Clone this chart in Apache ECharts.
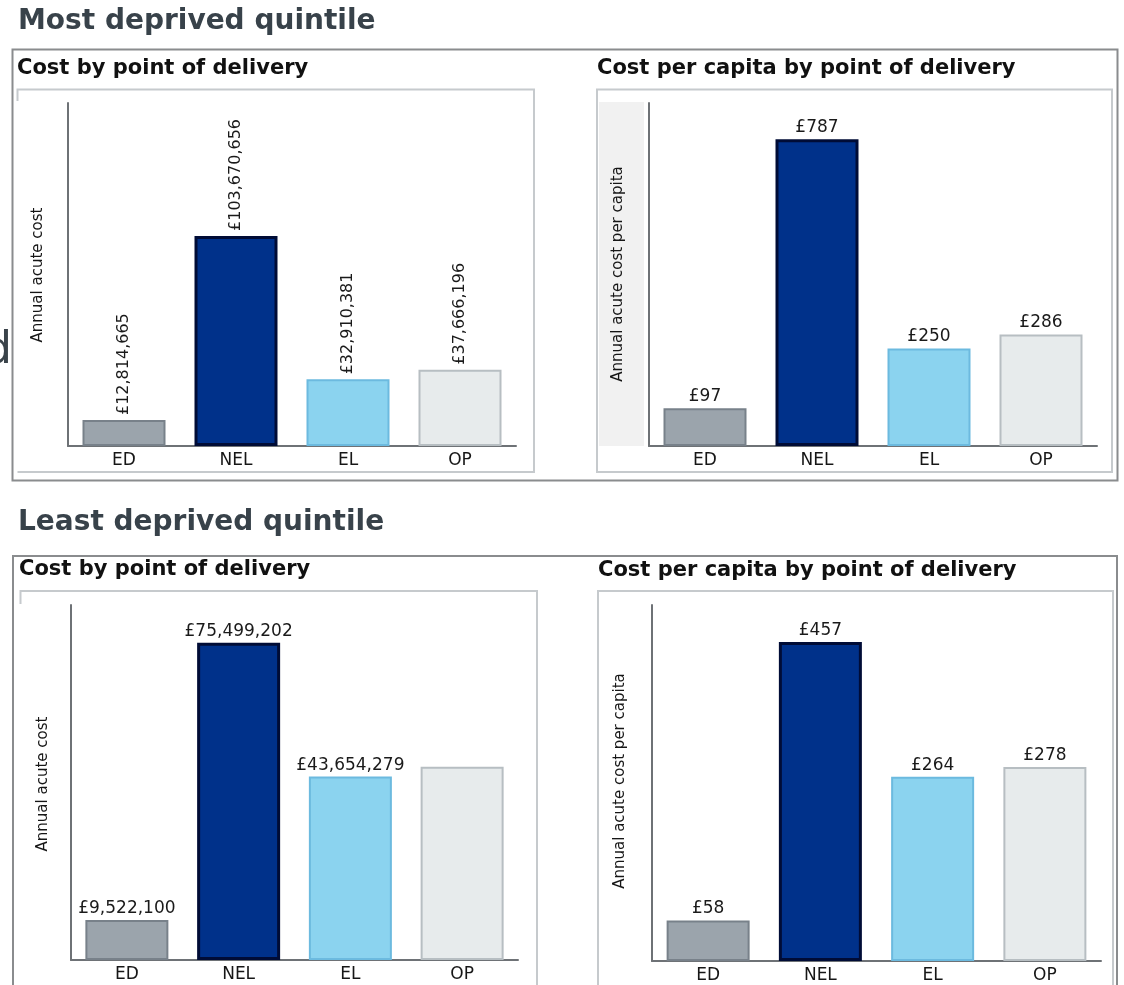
<!DOCTYPE html>
<html>
<head>
<meta charset="utf-8">
<script src="https://cdn.jsdelivr.net/npm/echarts@6/dist/echarts.min.js"></script>
<style>
  html, body { margin: 0; padding: 0; background: #ffffff; }
  #chart { width: 1124px; height: 985px; }
</style>
</head>
<body>
<div id="chart"></div>
<script>
// Points of delivery and annual acute costs by deprivation quintile
const categories = ['ED', 'NEL', 'EL', 'OP'];
const mostDeprivedCost = [12814665, 103670656, 32910381, 37666196];
const mostDeprivedPerCapita = [97, 787, 250, 286];
const leastDeprivedCost = [9522100, 75499202, 43654279, 46000000];
const leastDeprivedPerCapita = [58, 457, 264, 278];
// the least deprived OP cost bar carries no value label
const leastDeprivedCostLabelled = [true, true, true, false];

const sectionTitles = ['Most deprived quintile', 'Least deprived quintile'];
const panelTitles = ['Cost by point of delivery', 'Cost per capita by point of delivery'];
const axisNames = ['Annual acute cost', 'Annual acute cost per capita'];

// styling per point of delivery
const barFill = ['#9ba4ac', '#00318a', '#8bd3ef', '#e7ebec'];
const barEdge = ['#78818a', '#000c36', '#6cbadf', '#b7bec2'];
const barEdgeWidth = [2, 3, 2, 2];

const FONT = 'DejaVu Sans';
const pound = v => '£' + String(Math.round(v)).replace(/\B(?=(\d{3})+(?!\d))/g, ',');

const chart = echarts.init(document.getElementById('chart'), null, { renderer: 'canvas' });

// plot areas (px): left, top, width, height, y max
const panels = [
  { left: 68,  top: 103, width: 448, height: 343, max: 169.3e6, values: mostDeprivedCost,      rotated: true,  labelled: [true, true, true, true] },
  { left: 649, top: 103, width: 448, height: 343, max: 880,     values: mostDeprivedPerCapita, rotated: false, labelled: [true, true, true, true] },
  { left: 71,  top: 605, width: 447, height: 355, max: 84.5e6,  values: leastDeprivedCost,     rotated: false, labelled: leastDeprivedCostLabelled },
  { left: 652, top: 605, width: 449, height: 356, max: 510,     values: leastDeprivedPerCapita, rotated: false, labelled: [true, true, true, true] }
];

const grid = [], xAxis = [], yAxis = [], series = [];
panels.forEach((p, i) => {
  grid.push({ left: p.left, top: p.top, width: p.width, height: p.height, containLabel: false });
  xAxis.push({
    type: 'category', gridIndex: i, data: categories,
    axisLine: { show: true, lineStyle: { color: '#6e7276', width: 2 } },
    axisTick: { show: false },
    axisLabel: { color: '#161616', fontFamily: FONT, fontSize: 17, margin: 6 }
  });
  yAxis.push({
    type: 'value', gridIndex: i, min: 0, max: p.max,
    axisLine: { show: true, lineStyle: { color: '#6e7276', width: 2 } },
    axisTick: { show: false }, axisLabel: { show: false }, splitLine: { show: false }
  });
  series.push({
    type: 'bar', xAxisIndex: i, yAxisIndex: i, barWidth: 83, animation: false,
    data: p.values.map((v, k) => ({
      value: v,
      itemStyle: { color: barFill[k], borderColor: barEdge[k], borderWidth: barEdgeWidth[k] },
      label: { show: p.labelled[k] }
    })),
    label: p.rotated
      ? { show: true, position: 'top', rotate: 90, align: 'left', verticalAlign: 'middle', distance: 5,
          fontFamily: FONT, fontSize: 16, color: '#1a1a1a', formatter: d => pound(d.value) }
      : { show: true, position: 'top', distance: 3,
          fontFamily: FONT, fontSize: 17, color: '#1a1a1a', formatter: d => pound(d.value) }
  });
});

const boxGray = '#8a8c8e';
const innerGray = '#c6cacd';
const text = (x, y, str, font, fill) => ({
  type: 'text', silent: true,
  style: { x: x, y: y, text: str, font: font, fill: fill, textVerticalAlign: 'top' }
});
const rotatedName = (cx, cy, str) => ({
  type: 'text', silent: true, x: cx, y: cy, rotation: Math.PI / 2,
  style: { x: 0, y: 0, text: str, font: '15px "' + FONT + '"', fill: '#161616', textAlign: 'center', textVerticalAlign: 'middle' }
});
const poly = (pts, color) => ({ type: 'polyline', silent: true, shape: { points: pts }, style: { stroke: color, lineWidth: 2, fill: null } });

const graphic = [
  // stray glyph at the left margin
  { type: 'text', silent: true, style: { x: 12, y: 352, text: 'd', font: '44px "' + FONT + '"', fill: '#3a434a', textAlign: 'right', textVerticalAlign: 'middle' } },

  // section headings
  text(18, 8, sectionTitles[0], 'bold 28px "' + FONT + '"', '#38424a'),
  text(18, 509, sectionTitles[1], 'bold 28px "' + FONT + '"', '#38424a'),

  // outer frames
  { type: 'rect', silent: true, shape: { x: 12.5, y: 49.5, width: 1105, height: 431 }, style: { fill: null, stroke: boxGray, lineWidth: 2 } },
  { type: 'rect', silent: true, shape: { x: 13, y: 556, width: 1104, height: 460 }, style: { fill: null, stroke: boxGray, lineWidth: 2 } },

  // panel titles
  text(17, 58, panelTitles[0], 'bold 21px "' + FONT + '"', '#111111'),
  text(597, 58, panelTitles[1], 'bold 21px "' + FONT + '"', '#111111'),
  text(19, 559, panelTitles[0], 'bold 21px "' + FONT + '"', '#111111'),
  text(598, 560, panelTitles[1], 'bold 21px "' + FONT + '"', '#111111'),

  // inner plot frames
  poly([[17.5, 101], [17.5, 89.5], [534, 89.5], [534, 472], [17.5, 472]], innerGray),
  { type: 'rect', silent: true, shape: { x: 597, y: 89.5, width: 515, height: 382.5 }, style: { fill: null, stroke: innerGray, lineWidth: 2 } },
  poly([[20.5, 604], [20.5, 591], [537, 591], [537, 1000]], innerGray),
  poly([[598, 1000], [598, 591], [1113, 591], [1113, 1000]], innerGray),

  // shaded band behind the per-capita axis name
  { type: 'rect', silent: true, z: -1, shape: { x: 599, y: 102, width: 45, height: 344 }, style: { fill: '#f1f1f1' } },

  // y-axis names
  rotatedName(38.5, 275, axisNames[0]),
  rotatedName(618, 274, axisNames[1]),
  rotatedName(43, 784, axisNames[0]),
  rotatedName(620, 781, axisNames[1])
];

chart.setOption({
  animation: false,
  backgroundColor: '#ffffff',
  grid: grid, xAxis: xAxis, yAxis: yAxis, series: series,
  graphic: { elements: graphic }
});
</script>
</body>
</html>
